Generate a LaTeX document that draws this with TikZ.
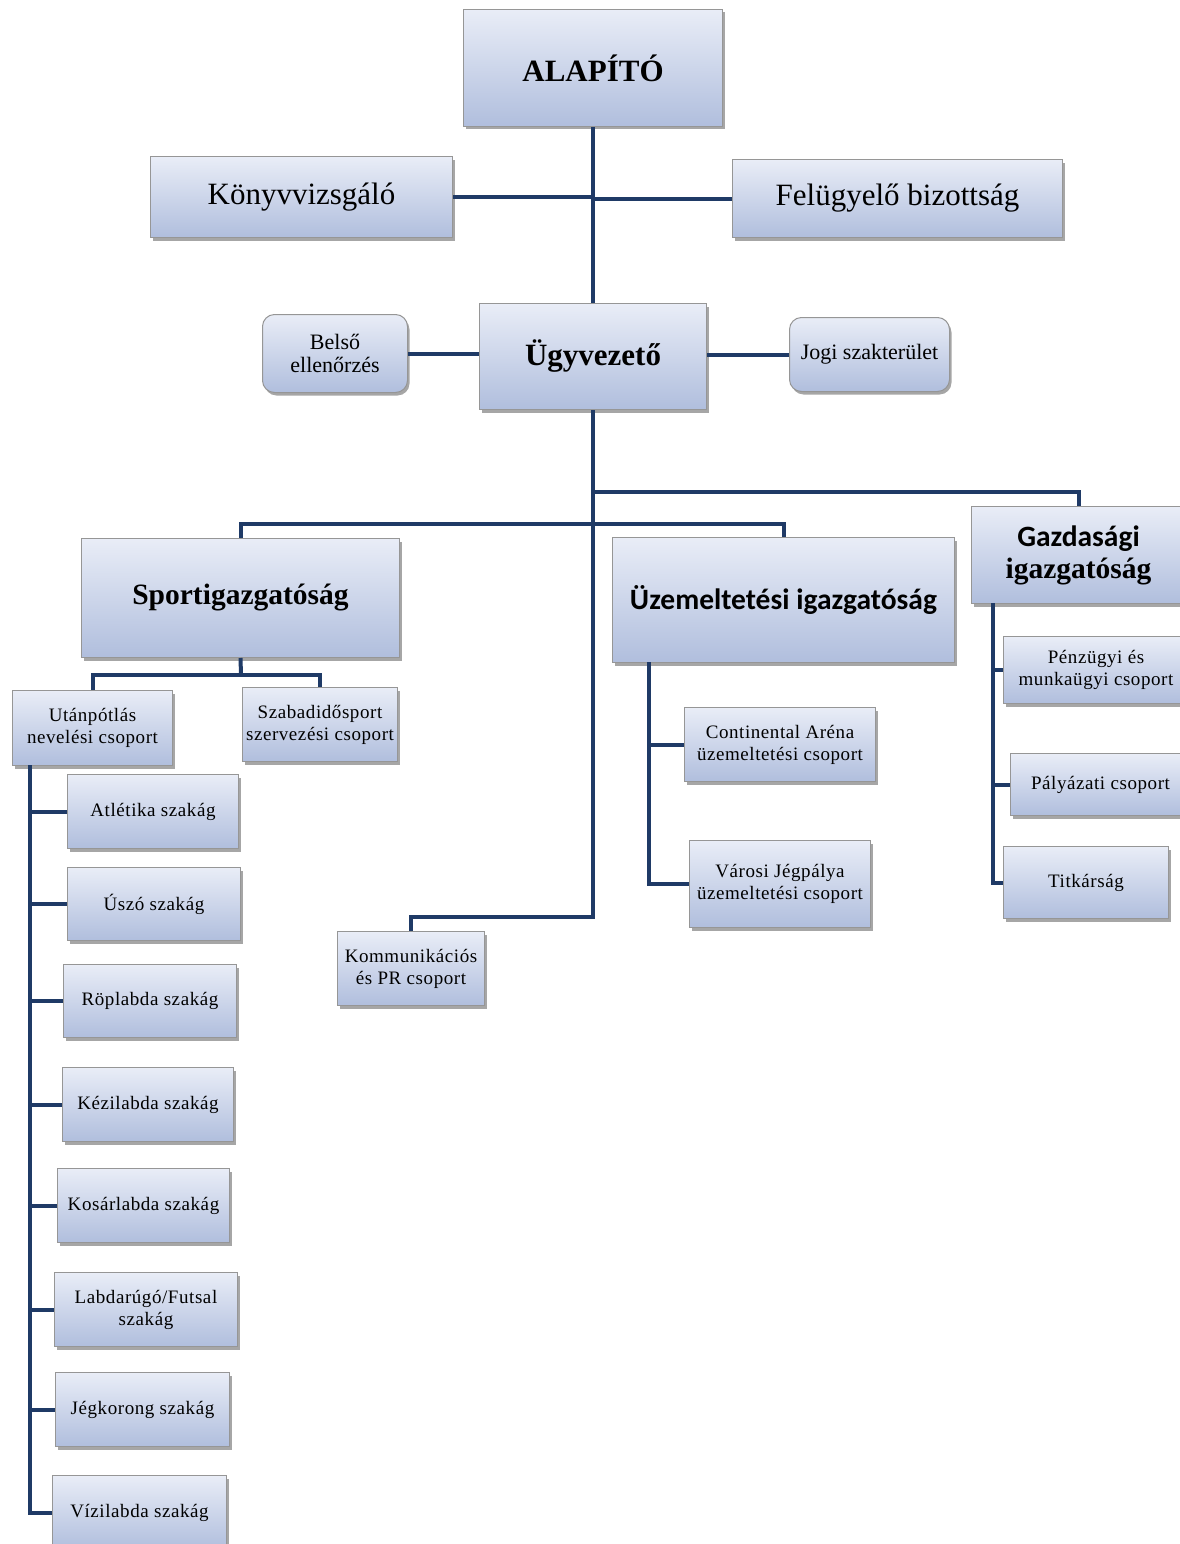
\documentclass[tikz,border=0pt]{standalone}
\usepackage{fontspec}
\setmainfont{Liberation Serif}
\newfontfamily\carlito{Carlito}
\newfontfamily\spaced{Liberation Serif}[LetterSpace=3]
\usetikzlibrary{shadows}
\definecolor{boxtop}{RGB}{233,237,247}
\definecolor{boxbot}{RGB}{176,190,221}
\definecolor{boxline}{RGB}{150,150,150}
\definecolor{conncol}{RGB}{31,58,102}
\begin{document}
\begin{tikzpicture}[x=1pt,y=-1pt,
 box/.style={draw=boxline, line width=1pt, top color=boxtop, bottom color=boxbot,
   anchor=north west, inner sep=0pt, align=center,
   drop shadow={shadow xshift=2pt, shadow yshift=-3pt, fill=black, opacity=0.35}},
 wh/.style 2 args={minimum width=#1pt, minimum height=#2pt},
 rbox/.style={box, rounded corners=12pt},
 big/.style={font=\fontsize{31}{34}\selectfont},
 bigb/.style={font=\fontsize{31}{34}\selectfont\bfseries},
 secb/.style={font=\fontsize{29.5}{32}\selectfont\bfseries},
 mid/.style={font=\fontsize{22}{23}\selectfont},
 small/.style={font=\spaced\fontsize{19}{22}\selectfont},
 conn/.style={draw=conncol, line width=4pt}]
\useasboundingbox (0,0) rectangle (1180,1544);

% top level
\node[box, wh={259}{117}, bigb] (alap) at (463,9) {ALAPÍTÓ};
\node[box, wh={302}{81}, big] (konyv) at (150,156) {Könyvvizsgáló};
\node[box, wh={330}{78}, big] (felug) at (732,159) {Felügyelő bizottság};
\node[box, wh={227}{106}, bigb] (ugy) at (479,303) {Ügyvezető};
\node[rbox, wh={145}{78}, mid] (belso) at (262,314) {Belső\\ellenőrzés};
\node[rbox, wh={160}{74}, mid] (jogi) at (789,317) {Jogi szakterület};

% directorates
\node[box, wh={318}{119}, secb] (sport) at (81,538) {Sportigazgatóság};
\node[box, wh={342}{125}, font=\carlito\fontsize{29.5}{32}\selectfont\bfseries] (uzem) at (612,537) {Üzemeltetési igazgatóság};
\node[box, wh={214}{97}, font=\fontsize{29.5}{32}\selectfont\bfseries] (gazd) at (971,506) {{\carlito Gazdasági}\\igazgatóság};

% sport children
\node[box, wh={160}{75}, small] (utan) at (12,690) {Utánpótlás\\nevelési csoport};
\node[box, wh={155}{74}, small] (szab) at (242,687) {Szabadidősport\\szervezési csoport};
\node[box, wh={171}{74}, small] (atl) at (67,774) {Atlétika szakág};
\node[box, wh={173}{73}, small] (uszo) at (67,867) {Úszó szakág};
\node[box, wh={173}{73}, small] (rop) at (63,964) {Röplabda szakág};
\node[box, wh={171}{74}, small] (kezi) at (62,1067) {Kézilabda szakág};
\node[box, wh={172}{74}, small] (kosar) at (57,1168) {Kosárlabda szakág};
\node[box, wh={183}{74}, small] (labda) at (54,1272) {Labdarúgó/Futsal\\szakág};
\node[box, wh={174}{74}, small] (jeg) at (55,1372) {Jégkorong szakág};
\node[box, wh={174}{74}, small] (viz) at (52,1475) {Vízilabda szakág};

% other groups
\node[box, wh={147}{74}, small] (komm) at (337,931) {Kommunikációs\\és PR csoport};
\node[box, wh={191}{74}, small] (cont) at (684,707) {Continental Aréna\\üzemeltetési csoport};
\node[box, wh={181}{87}, small] (varos) at (689,840) {Városi Jégpálya\\üzemeltetési csoport};
\node[box, wh={185}{67}, small] (penz) at (1003,636) {Pénzügyi és\\munkaügyi csoport};
\node[box, wh={180}{62}, small] (palya) at (1010,753) {Pályázati csoport};
\node[box, wh={165}{72}, small] (titk) at (1003,846) {Titkárság};

% helper coordinates
\coordinate (kt) at (411,917);
\coordinate (gz) at (593,492);
\coordinate (bus) at (593,524);
\coordinate (sb) at (241,675);
\coordinate (ut) at (30,765);
\coordinate (uz) at (649,662);
\coordinate (gt) at (993,603);

% connectors
\draw[conn] (alap.south) -- (ugy.north);
\draw[conn] (konyv.east) -- (konyv.east -| alap.south);
\draw[conn] (felug.west) -- (felug.west -| alap.south);
\draw[conn] (belso.east) -- (belso.east -| ugy.west);
\draw[conn] (jogi.west) -- (jogi.west -| ugy.east);
\draw[conn] (ugy.south) |- (kt) -- (komm.north);
\draw[conn] (gz) -| (gazd.north);
\draw[conn] (sport.north) |- (bus) -| (uzem.north);
\draw[conn] (sport.south) -- (sb);
\draw[conn] (utan.north) |- (sb) -| (szab.north);
\draw[conn] (ut) |- (atl.west);
\draw[conn] (ut) |- (uszo.west);
\draw[conn] (ut) |- (rop.west);
\draw[conn] (ut) |- (kezi.west);
\draw[conn] (ut) |- (kosar.west);
\draw[conn] (ut) |- (labda.west);
\draw[conn] (ut) |- (jeg.west);
\draw[conn] (ut) |- (viz.west);
\draw[conn] (uz) |- (cont.west);
\draw[conn] (uz) |- (varos.west);
\draw[conn] (gt) |- (penz.west);
\draw[conn] (gt) |- (palya.west);
\draw[conn] (gt) |- (titk.west);
\end{tikzpicture}
\end{document}
